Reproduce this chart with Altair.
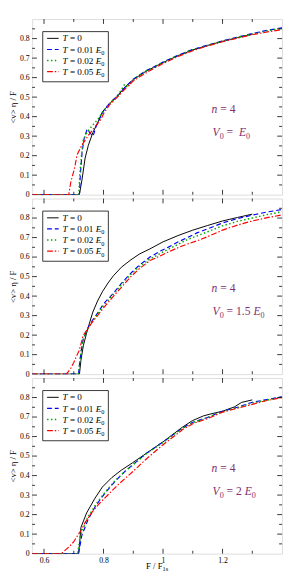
import altair as alt
import pandas as pd

# ---------------- data ----------------
X_DOMAIN = [0.56, 1.4]
Y_DOMAIN = [0, 0.9]
X_LABELS = [0.6, 0.8, 1.0, 1.2]
X_MINOR = [0.7, 0.9, 1.1, 1.3]
Y_LABELS = [0, 0.1, 0.2, 0.3, 0.4, 0.5, 0.6, 0.7, 0.8]
Y_MAJOR = [0.1, 0.2, 0.3, 0.4, 0.5, 0.6, 0.7, 0.8]
Y_MINOR = [0.05, 0.15, 0.25, 0.35, 0.45, 0.55, 0.65, 0.75, 0.85]

LEGEND_T = ["0", "0.01", "0.02", "0.05"]
V0_FACTOR = ["", "1.5", "2"]

# Panel 1: V0 = E0
P1_T0_X = [0.56, 0.715, 0.72, 0.728, 0.738, 0.749, 0.764, 0.78, 0.796, 0.82, 0.85, 0.871, 0.90, 0.94, 1.0, 1.05, 1.1, 1.15, 1.2, 1.25, 1.3]
P1_T0_Y = [0, 0, 0.01, 0.08, 0.187, 0.253, 0.318, 0.367, 0.424, 0.465, 0.51, 0.55, 0.59, 0.63, 0.677, 0.712, 0.742, 0.765, 0.786, 0.805, 0.823]
P1_T1_X = [0.56, 0.719, 0.722, 0.728, 0.735, 0.745, 0.755, 0.765, 0.775, 0.79, 0.80, 0.82, 0.85, 0.871, 0.90, 0.94, 0.97, 1.0, 1.05, 1.1, 1.15, 1.2, 1.25, 1.3, 1.35, 1.4]
P1_T1_Y = [0, 0, 0.1, 0.22, 0.29, 0.335, 0.315, 0.30, 0.35, 0.40, 0.43, 0.468, 0.512, 0.548, 0.592, 0.633, 0.655, 0.68, 0.714, 0.745, 0.766, 0.788, 0.807, 0.826, 0.842, 0.855]
P1_T2_X = [0.56, 0.717, 0.72, 0.726, 0.732, 0.745, 0.76, 0.78, 0.80, 0.82, 0.85, 0.871, 0.88, 0.90, 0.94, 0.97, 1.0, 1.05, 1.1, 1.15, 1.2, 1.25, 1.3, 1.35, 1.4]
P1_T2_Y = [0, 0, 0.1, 0.2, 0.28, 0.32, 0.35, 0.385, 0.43, 0.466, 0.512, 0.566, 0.55, 0.59, 0.632, 0.654, 0.678, 0.713, 0.743, 0.765, 0.787, 0.806, 0.824, 0.84, 0.852]
P1_T5_X = [0.56, 0.683, 0.69, 0.703, 0.711, 0.727, 0.748, 0.764, 0.79, 0.80, 0.82, 0.85, 0.871, 0.90, 0.94, 0.97, 1.0, 1.05, 1.1, 1.15, 1.2, 1.25, 1.3, 1.35, 1.4]
P1_T5_Y = [0, 0, 0.065, 0.138, 0.204, 0.253, 0.302, 0.334, 0.383, 0.415, 0.46, 0.505, 0.54, 0.583, 0.622, 0.648, 0.672, 0.708, 0.738, 0.762, 0.784, 0.802, 0.82, 0.834, 0.846]

# Panel 2: V0 = 1.5 E0
P2_T0_X = [0.56, 0.719, 0.724, 0.732, 0.743, 0.754, 0.764, 0.78, 0.796, 0.815, 0.833, 0.86, 0.892, 0.92, 0.956, 1.0, 1.05, 1.1, 1.15, 1.2, 1.25, 1.3]
P2_T0_Y = [0, 0, 0.07, 0.145, 0.21, 0.268, 0.318, 0.375, 0.422, 0.467, 0.504, 0.548, 0.586, 0.615, 0.642, 0.678, 0.71, 0.738, 0.762, 0.785, 0.803, 0.82]
P2_T1_X = [0.56, 0.716, 0.72, 0.725, 0.732, 0.745, 0.76, 0.785, 0.80, 0.828, 0.86, 0.892, 0.92, 0.956, 0.99, 1.018, 1.05, 1.082, 1.114, 1.15, 1.2, 1.25, 1.3, 1.35, 1.4]
P2_T1_Y = [0, 0, 0.06, 0.12, 0.18, 0.23, 0.27, 0.324, 0.36, 0.406, 0.465, 0.518, 0.558, 0.6, 0.63, 0.651, 0.677, 0.70, 0.724, 0.745, 0.775, 0.797, 0.815, 0.831, 0.844]
P2_T2_X = [0.56, 0.716, 0.72, 0.725, 0.732, 0.745, 0.76, 0.785, 0.80, 0.828, 0.86, 0.892, 0.92, 0.956, 0.99, 1.018, 1.05, 1.082, 1.114, 1.15, 1.2, 1.25, 1.3, 1.35, 1.4]
P2_T2_Y = [0, 0, 0.06, 0.12, 0.18, 0.228, 0.266, 0.318, 0.352, 0.4, 0.458, 0.512, 0.55, 0.59, 0.618, 0.64, 0.665, 0.69, 0.708, 0.73, 0.76, 0.783, 0.8, 0.818, 0.832]
P2_T5_X = [0.56, 0.675, 0.69, 0.70, 0.71, 0.718, 0.725, 0.732, 0.745, 0.76, 0.785, 0.80, 0.828, 0.86, 0.892, 0.92, 0.956, 0.99, 1.018, 1.05, 1.082, 1.114, 1.15, 1.2, 1.25, 1.3, 1.35, 1.4]
P2_T5_Y = [0, 0, 0.03, 0.06, 0.095, 0.12, 0.16, 0.2, 0.228, 0.262, 0.31, 0.34, 0.39, 0.445, 0.5, 0.54, 0.582, 0.606, 0.626, 0.648, 0.667, 0.683, 0.705, 0.738, 0.764, 0.785, 0.802, 0.816]

# Panel 3: V0 = 2 E0
P3_T0_X = [0.56, 0.716, 0.72, 0.724, 0.743, 0.77, 0.796, 0.828, 0.86, 0.897, 0.94, 1.0, 1.066, 1.098, 1.136, 1.158, 1.2, 1.24, 1.264, 1.30]
P3_T0_Y = [0, 0, 0.06, 0.134, 0.208, 0.281, 0.341, 0.39, 0.428, 0.465, 0.51, 0.573, 0.649, 0.681, 0.706, 0.715, 0.73, 0.752, 0.775, 0.788]
P3_T1_X = [0.56, 0.716, 0.727, 0.748, 0.775, 0.807, 0.839, 0.871, 0.903, 0.94, 1.0, 1.066, 1.1, 1.15, 1.2, 1.25, 1.3, 1.35, 1.4]
P3_T1_Y = [0, 0, 0.093, 0.175, 0.249, 0.314, 0.371, 0.42, 0.461, 0.51, 0.572, 0.645, 0.673, 0.698, 0.73, 0.75, 0.776, 0.79, 0.804]
P3_T2_X = [0.56, 0.713, 0.722, 0.745, 0.775, 0.807, 0.839, 0.871, 0.903, 0.94, 1.0, 1.066, 1.1, 1.15, 1.2, 1.25, 1.3, 1.35, 1.4]
P3_T2_Y = [0, 0, 0.09, 0.18, 0.255, 0.318, 0.374, 0.42, 0.46, 0.508, 0.57, 0.643, 0.672, 0.697, 0.728, 0.748, 0.772, 0.787, 0.802]
P3_T5_X = [0.56, 0.658, 0.685, 0.70, 0.713, 0.724, 0.738, 0.759, 0.786, 0.818, 0.85, 0.882, 0.914, 0.94, 1.0, 1.066, 1.1, 1.15, 1.2, 1.25, 1.3, 1.35, 1.4]
P3_T5_Y = [0, 0, 0.036, 0.061, 0.093, 0.118, 0.159, 0.208, 0.257, 0.306, 0.355, 0.398, 0.442, 0.48, 0.558, 0.636, 0.666, 0.692, 0.725, 0.745, 0.765, 0.785, 0.80]

# ---------------- styles ----------------
FONT = "Liberation Serif"
W, H = 259, 182
COLORS = ["#000000", "#0000ff", "#00a800", "#ff0000"]
DASHES = [None, [5, 3], [1.5, 2.5], [6, 2, 1.5, 2]]
WIDTHS = [1.0, 1.2, 1.5, 1.2]
ANNOT = "#7f2f6e"

XS = alt.Scale(domain=X_DOMAIN, zero=False, nice=False)
YS = alt.Scale(domain=Y_DOMAIN, zero=False, nice=False)
YAXIS = alt.Axis(values=Y_LABELS, format=".1~f", ticks=False, domain=False, grid=False,
                 labelFont=FONT, labelFontSize=8, labelPadding=3, labelColor="black",
                 labelFlush=False, labelOverlap=False,
                 title="<v> η / F", titleFont=FONT, titleFontSize=9, titleFontWeight="normal",
                 titlePadding=2, titleColor="black")
XAXIS = alt.Axis(values=X_LABELS, format=".1~f", ticks=False, domain=False, grid=False,
                 labelFont=FONT, labelFontSize=8, labelPadding=3, labelColor="black",
                 labelFlush=False, labelOverlap=False, title=None)

ONE = pd.DataFrame({"k": [0]})
REG_W = {" ": 250, "=": 564, ".": 250, "/": 278, "F": 556, "s": 389}
ITA_W = {"T": 556, "E": 611, "V": 611, "n": 500}


def text_width(t, italic, size):
    table = ITA_W if italic else REG_W
    return sum(table.get(c, 500) for c in t) * size / 1000.0


def rich_text(segs, x, y, color="black", center=False):
    if center:
        x -= sum(text_width(t, it, s) for t, it, s, d in segs) / 2
    layers = []
    for t, it, s, d in segs:
        lead = len(t) - len(t.lstrip(" "))
        core = t.strip(" ")
        if core:
            layers.append(
                alt.Chart(ONE).mark_text(
                    align="left", baseline="alphabetic", font=FONT, fontSize=s,
                    fontStyle="italic" if it else "normal", color=color
                ).encode(x=alt.value(x + text_width(" " * lead, it, s)),
                         y=alt.value(y + d), text=alt.value(core))
            )
        x += text_width(t, it, s)
    return layers


def panel(series, factor, show_x):
    xaxis = XAXIS if show_x else None

    def X(f):
        return alt.X(f, type="quantitative", scale=XS, axis=xaxis)

    def Y(f):
        return alt.Y(f, type="quantitative", scale=YS, axis=YAXIS)

    layers = []
    for i, (xs, ys) in enumerate(series):
        df = pd.DataFrame({"x": xs, "y": ys})
        kw = dict(color=COLORS[i], strokeWidth=WIDTHS[i], clip=True)
        if DASHES[i]:
            kw["strokeDash"] = DASHES[i]
        layers.append(alt.Chart(df).mark_line(**kw).encode(x=X("x"), y=Y("y")))

    # inward ticks on all four sides
    def yt(vals, length):
        df = pd.DataFrame({"v": vals})
        r = alt.Chart(df).mark_rule(color="black", strokeWidth=0.8)
        return [r.encode(y=Y("v"), x=alt.value(0), x2=alt.value(length)),
                r.encode(y=Y("v"), x=alt.value(W), x2=alt.value(W - length))]

    def xt(vals, length):
        df = pd.DataFrame({"v": vals})
        r = alt.Chart(df).mark_rule(color="black", strokeWidth=0.8)
        return [r.encode(x=X("v"), y=alt.value(0), y2=alt.value(length)),
                r.encode(x=X("v"), y=alt.value(H), y2=alt.value(H - length))]

    layers += yt(Y_MAJOR, 5) + yt(Y_MINOR, 3) + xt(X_LABELS, 5) + xt(X_MINOR, 3)

    # legend
    layers.append(alt.Chart(ONE).mark_rect(fill="white", stroke="black", strokeWidth=0.8).encode(
        x=alt.value(11), x2=alt.value(79), y=alt.value(13), y2=alt.value(65)))
    for i, tv in enumerate(LEGEND_T):
        cy = 20 + 11.5 * i
        kw = dict(color=COLORS[i], strokeWidth=WIDTHS[i])
        if DASHES[i]:
            kw["strokeDash"] = DASHES[i]
        layers.append(alt.Chart(ONE).mark_rule(**kw).encode(
            x=alt.value(15.5), x2=alt.value(27.5), y=alt.value(cy), y2=alt.value(cy)))
        segs = [("T", True, 9.5, 0), (" = " + tv, False, 9.5, 0)]
        if tv != "0":
            segs += [(" ", False, 9.5, 0), ("E", True, 9.5, 0), ("0", False, 6.5, 2.5)]
        layers += rich_text(segs, 31.5, cy + 3.2)

    # annotation
    layers += rich_text([("n", True, 12, 0), (" = 4", False, 12, 0)], 186, 97, ANNOT)
    vsegs = [("V", True, 12, 0), ("0", False, 8.4, 3), (" = ", False, 12, 0)]
    if factor:
        vsegs += [(factor, False, 12, 0)]
    vsegs += [(" ", False, 12, 0), ("E", True, 12, 0), ("0", False, 8.4, 3)]
    layers += rich_text(vsegs, 187, 121, ANNOT)

    if show_x:
        layers += rich_text([("F / F", False, 9, 0), ("1s", False, 6.5, 2.5)], W / 2, H + 16,
                            "black", center=True)

    return alt.layer(*layers).properties(width=W, height=H)


p1 = panel([(P1_T0_X, P1_T0_Y), (P1_T1_X, P1_T1_Y), (P1_T2_X, P1_T2_Y), (P1_T5_X, P1_T5_Y)], V0_FACTOR[0], False)
p2 = panel([(P2_T0_X, P2_T0_Y), (P2_T1_X, P2_T1_Y), (P2_T2_X, P2_T2_Y), (P2_T5_X, P2_T5_Y)], V0_FACTOR[1], False)
p3 = panel([(P3_T0_X, P3_T0_Y), (P3_T1_X, P3_T1_Y), (P3_T2_X, P3_T2_Y), (P3_T5_X, P3_T5_Y)], V0_FACTOR[2], True)

chart = alt.vconcat(p1, p2, p3, spacing=4, bounds="flush").properties(
    padding={"left": 0, "top": 0, "right": 0, "bottom": 0}
).configure_view(stroke="black", strokeWidth=1).configure(background="white")

chart.save("out.html", embed_options={"renderer": "svg", "actions": False})
